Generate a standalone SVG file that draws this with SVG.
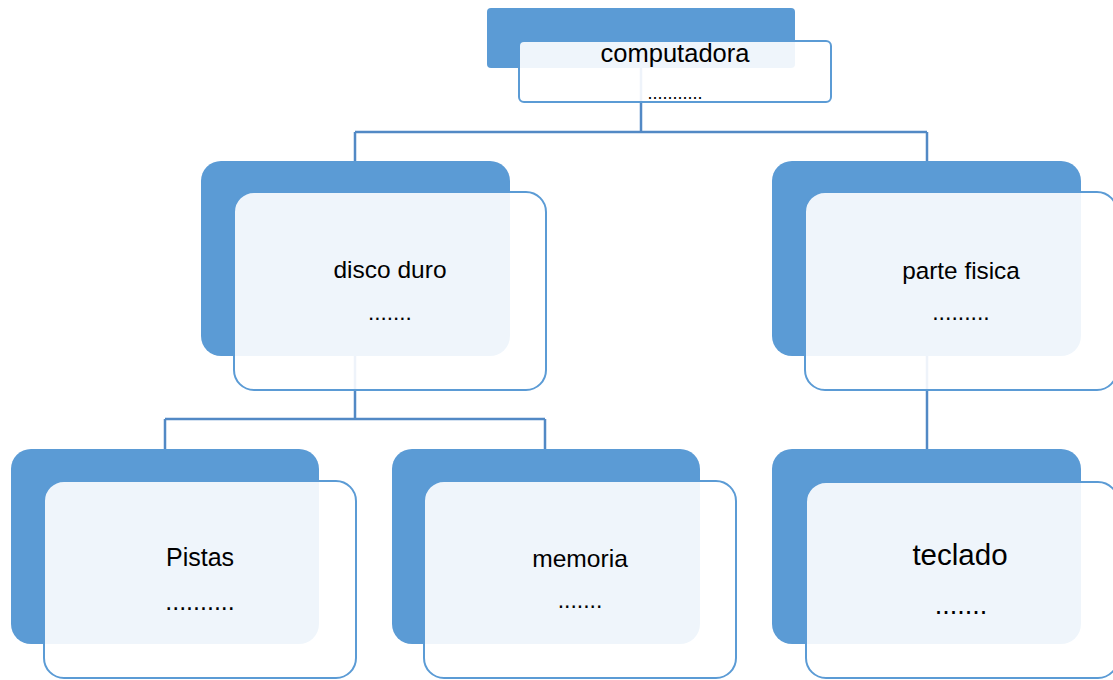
<svg xmlns="http://www.w3.org/2000/svg" width="1113" height="680" viewBox="0 0 1113 680">
<style>
.bg{fill:#5B9BD5;}
.fg{fill:#FFFFFF;fill-opacity:0.9;stroke:#5B9BD5;stroke-width:2;}
.con{fill:none;stroke:#5289C5;stroke-width:2.5;}
text{font-family:"Liberation Sans",Arial,sans-serif;fill:#000;text-anchor:middle;}
</style>
<rect width="1113" height="680" fill="#FFFFFF"/>
<g id="connectors">
<path class="con" d="M641 60 V132 M355 132 H927 M355 132 V175 M927 132 V175"/>
<path class="con" d="M355 340 V419 M165 419 H545 M165 419 V460 M545 419 V460"/>
<path class="con" d="M927 340 V460"/>
</g>
<g id="node-computadora">
<rect class="bg" x="487" y="8" width="308" height="60" rx="4"/>
<rect class="fg" x="519" y="41" width="312" height="61" rx="5"/>
<text x="675" y="62" font-size="25.5">computadora</text>
<text x="675" y="99" font-size="18">...........</text>
</g>
<g id="node-disco-duro">
<rect class="bg" x="201" y="161" width="309" height="195" rx="20"/>
<rect class="fg" x="234" y="192" width="312" height="198" rx="20"/>
<text x="390" y="278" font-size="24.5">disco duro</text>
<text x="390" y="320" font-size="22.5">.......</text>
</g>
<g id="node-parte-fisica">
<rect class="bg" x="772" y="161" width="309" height="195" rx="20"/>
<rect class="fg" x="805" y="192" width="312" height="198" rx="20"/>
<text x="961" y="279" font-size="24.3">parte fisica</text>
<text x="961" y="320" font-size="23">.........</text>
</g>
<g id="node-pistas">
<rect class="bg" x="11" y="449" width="308" height="195" rx="20"/>
<rect class="fg" x="44" y="481" width="312" height="197" rx="20"/>
<text x="200" y="566" font-size="25">Pistas</text>
<text x="200" y="610" font-size="25">..........</text>
</g>
<g id="node-memoria">
<rect class="bg" x="392" y="449" width="308" height="195" rx="20"/>
<rect class="fg" x="424" y="481" width="312" height="197" rx="20"/>
<text x="580" y="567" font-size="24.6">memoria</text>
<text x="580" y="608" font-size="23">.......</text>
</g>
<g id="node-teclado">
<rect class="bg" x="772" y="449" width="309" height="195" rx="20"/>
<rect class="fg" x="806" y="482" width="312" height="196" rx="20"/>
<text x="960" y="565" font-size="29.5">teclado</text>
<text x="961" y="614" font-size="27">.......</text>
</g>
</svg>
